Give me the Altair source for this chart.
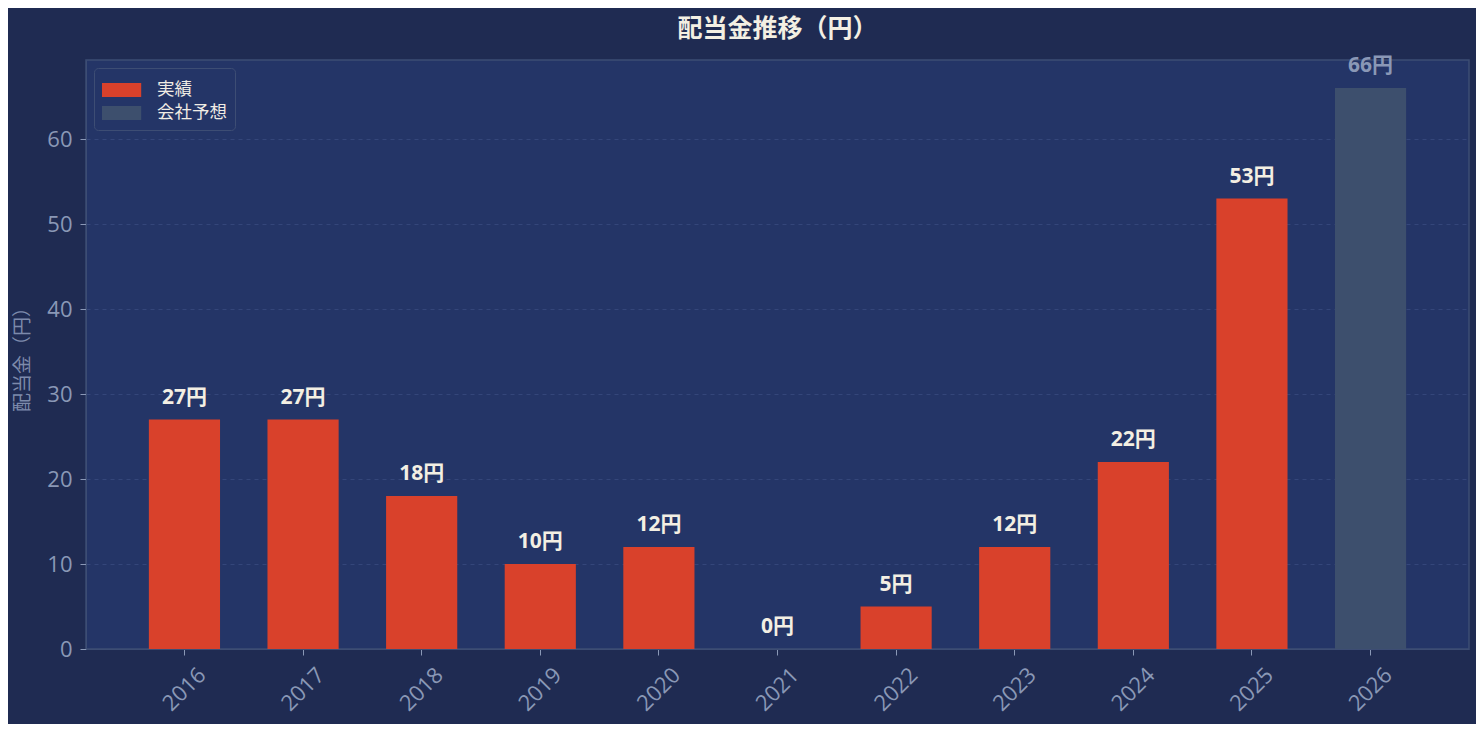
import altair as alt
import pandas as pd

years = ["2016", "2017", "2018", "2019", "2020", "2021", "2022", "2023", "2024", "2025", "2026"]
values = [27, 27, 18, 10, 12, 0, 5, 12, 22, 53, 66]
kinds = ["実績"] * 10 + ["会社予想"]
labels = [f"{v}円" for v in values]

df = pd.DataFrame({"year": years, "value": values, "kind": kinds, "label": labels})

FONT = "Noto Sans CJK JP"
NUMFONT = "Open Sans, Noto Sans CJK JP"
BG = "#1f2b52"
PLOT_BG = "#243567"
TICK = "#8a98b6"

x_enc = alt.X("year:N", title=None, sort=years,
              scale=alt.Scale(paddingInner=0.4, paddingOuter=0.53),
              axis=alt.Axis(labelAngle=315, labelAlign="center", labelBaseline="middle",
                            labelFontSize=22, labelColor=TICK,
                            tickColor=TICK, tickSize=6, domainColor="#3d4d74",
                            labelPadding=34, labelFont=NUMFONT))

bars = alt.Chart(df).mark_bar().encode(
    x=x_enc,
    y=alt.Y("value:Q", title="配当金（円）",
            scale=alt.Scale(domain=[0, 69.3], nice=False),
            axis=alt.Axis(values=[0, 10, 20, 30, 40, 50, 60], labelFontSize=22,
                          labelColor=TICK, tickColor=TICK, tickSize=6,
                          domainColor="#3d4d74", grid=True, gridColor="#34467a",
                          gridDash=[4, 4], gridWidth=1, titleFontSize=19,
                          titleColor="#7d8aab", titleFontWeight="normal",
                          titlePadding=14, labelPadding=8, titleFont=FONT, labelFont=NUMFONT)),
    color=alt.Color("kind:N", title=None,
                    scale=alt.Scale(domain=["実績", "会社予想"], range=["#d9412b", "#3d4f6d"]),
                    legend=alt.Legend(orient="top-left", offset=8, fillColor="#243567",
                                      strokeColor="#3d4d74", padding=8, cornerRadius=4,
                                      labelColor="#f0ece4", labelFontSize=17.5, labelFont=FONT,
                                      symbolType="M-1,-0.5H1.8V0.5H-1Z", symbolSize=784,
                                      symbolStrokeWidth=0, rowPadding=0, labelOffset=27)),
)

text = alt.Chart(df).mark_text(baseline="middle", dy=-22, fontSize=21, fontWeight="bold",
                               font=NUMFONT).encode(
    x=alt.X("year:N", sort=years),
    y="value:Q",
    text="label:N",
    color=alt.Color("kind:N", scale=alt.Scale(domain=["実績", "会社予想"],
                                              range=["#f3efe3", "#8a98b6"]), legend=None),
)

chart = alt.layer(bars, text).resolve_scale(color="independent").properties(
    width=1383, height=589,
    title=alt.TitleParams("配当金推移（円）", fontSize=25, fontWeight="bold", color="#f3efe3",
                          font=FONT, offset=13, anchor="middle"),
    autosize=alt.AutoSizeParams(type="none"),
    padding={"left": 78, "top": 52, "right": 7, "bottom": 75},
).configure(background=BG).configure_view(fill=PLOT_BG, stroke="#3d4d74", strokeWidth=1.5)

chart.save("out.html", embed_options={"renderer": "svg", "actions": False})
